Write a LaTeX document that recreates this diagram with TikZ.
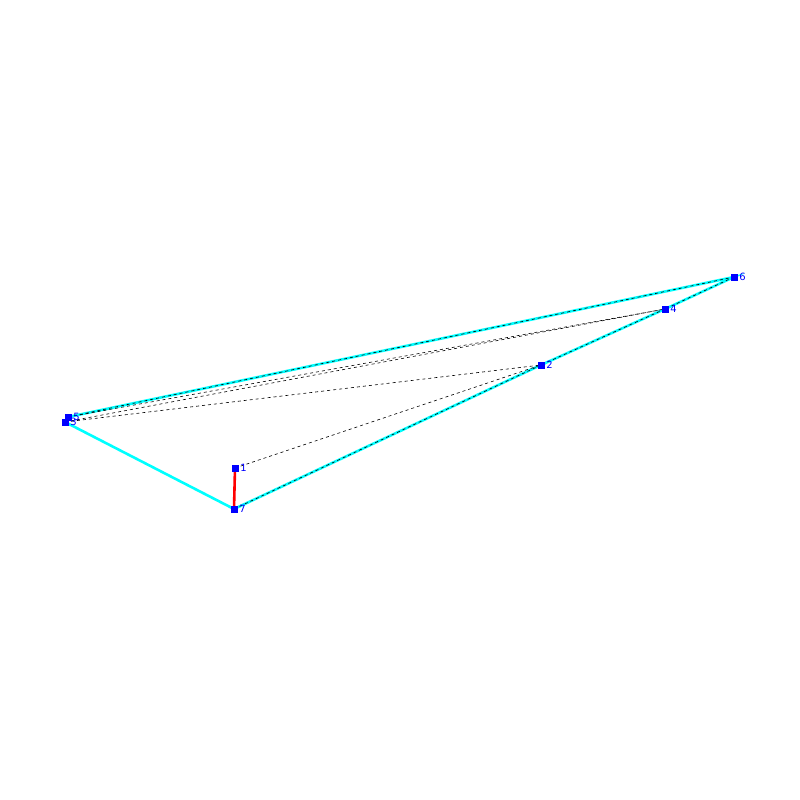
\documentclass[tikz,border=0pt]{standalone}
\usepackage{fontspec}
\setmainfont{DejaVu Sans}
\definecolor{rimcyan}{RGB}{0,255,255}
\definecolor{ptblue}{RGB}{0,0,255}

\begin{document}
\begin{tikzpicture}[x=1pt,y=-1pt,line width=.8pt]
\tikzset{pt/.style={fill=ptblue,inner sep=0pt,minimum size=7pt},
  lbl/.style={text=ptblue,font=\fontsize{10}{10}\selectfont,right,inner sep=1pt},
  rim/.style={rimcyan,line width=2.6pt},
  diag/.style={black,line width=.6pt,dash pattern=on 3pt off 3pt}}
\useasboundingbox (0,0) rectangle (800,800);
\coordinate (p1) at (235,468); \coordinate (p2) at (541,365); \coordinate (p3) at (65,422); \coordinate (p4) at (665,309);
\coordinate (p5) at (68,417); \coordinate (p6) at (734,277); \coordinate (p7) at (234,509);
\draw[rim] (p5)--(p6)--(p4)--(p2)--(p7)--(p3);
\draw[red,line width=2.6pt] (p1)--(p7);
\draw[diag] (p5)--(p6); \draw[diag] (p6)--(p4); \draw[diag] (p4)--(p2); \draw[diag] (p2)--(p7);
\draw[diag] (p1)--(p2); \draw[diag] (p3)--(p2); \draw[diag] (p3)--(p4); \draw[diag] (p5)--(p4);
\foreach \i in {1,...,7} {\node[pt] (m\i) at (p\i) {}; \node[lbl] (t\i) at (m\i.east) {\i};}
\end{tikzpicture}
\end{document}
